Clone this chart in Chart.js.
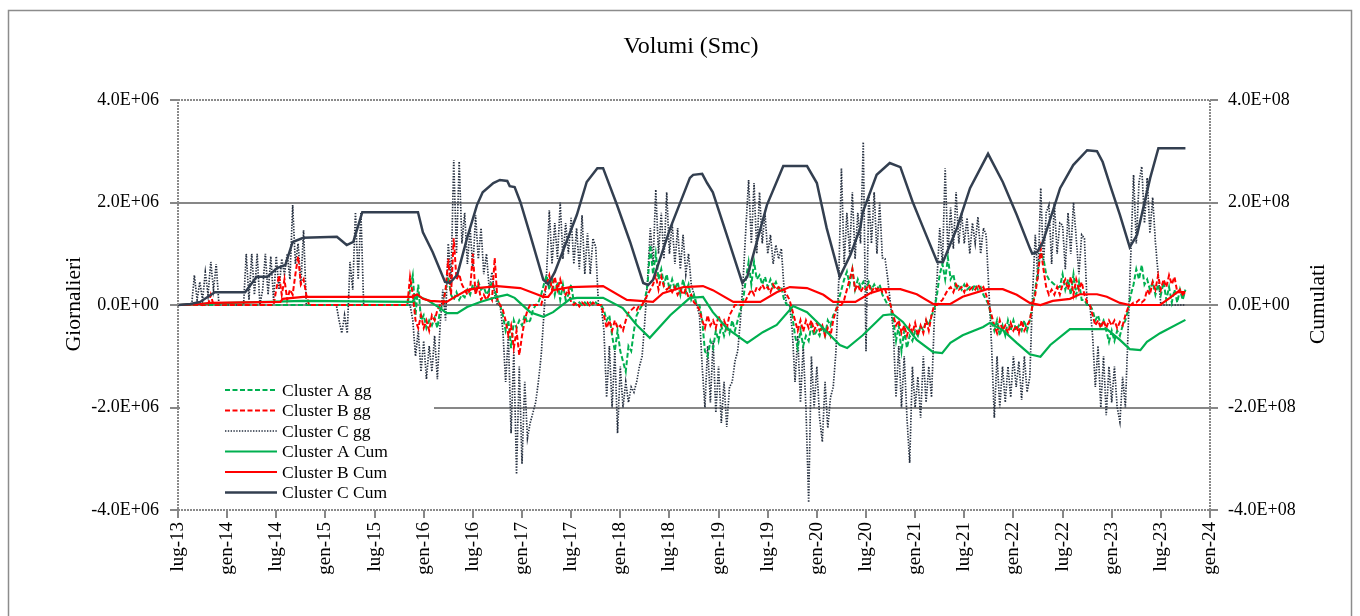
<!DOCTYPE html>
<html><head><meta charset="utf-8">
<script src="https://cdn.jsdelivr.net/npm/chart.js@4.4.1/dist/chart.umd.min.js"></script>
<style>html,body{margin:0;padding:0;background:#fff}#wrap{width:1360px;height:616px;position:relative}</style>
</head><body><div id="wrap"><canvas id="c" width="1360" height="616"></canvas></div>
<script>
// ---------------- DATA ----------------
const TITLE = 'Volumi (Smc)';
const LEFT_TITLE = 'Giornalieri';
const RIGHT_TITLE = 'Cumulati';
// x tick labels, one every 6 months starting lug-13 (month 0)
const tickLabels = ['lug-13','gen-14','lug-14','gen-15','lug-15','gen-16','lug-16','gen-17','lug-17','gen-18','lug-18','gen-19','lug-19','gen-20','lug-20','gen-21','lug-21','gen-22','lug-22','gen-23','lug-23','gen-24'];
const seriesNames = ['Cluster A gg','Cluster B gg','Cluster C gg','Cluster A Cum','Cluster B Cum','Cluster C Cum'];
// daily series sampled 3 times per month from lug-13, values in 1E+06 Smc
const SAMPLES_PER_MONTH = 3;
const clusterAgg = [
0,0,0,0,0,0,0,0,0,0,
0,0,0,0,0,0,0,0,0,0,
0,0,0,0,0,0,0,0,0,0,
0,0,0,0,0,0,0,0,0,0,
0,0,0,0,0,0,0,0,0,0,
0,0,0,0,0,0,0,0,0,0,
0,0,0,0,0,0,0,0,0,0,
0,0,0,0,0,0,0,0,0,0,
0,0,0,0,0,0.3,0.58,-0.2,0.4,-0.3,
-0.2,-0.45,-0.3,-0.4,-0.25,-0.45,-0.1,0,0.3,0.55,
0.2,0.1,0.25,0.1,0.2,0.15,0.3,0.2,0.4,0.25,
0.45,0.3,0.35,0.2,0.3,0.45,0.3,0.1,0,-0.2,
-0.5,-0.3,-0.84,-0.3,-0.45,-0.3,-0.4,-0.2,-0.35,-0.3,
-0.1,0,0.05,0.2,0.4,0.58,0.3,0.5,0.2,0.45,
0.1,0.4,0.1,0.2,0.4,0.05,0,0.05,0,0.05,
0,0.05,0,0.05,0,0,-0.1,-0.3,-0.2,-0.6,
-0.9,-0.5,-0.9,-1.1,-1.3,-0.8,-0.9,-0.5,-0.2,-0.1,
0,0.1,0.4,1.17,0.6,1.0,0.5,0.7,0.4,0.6,
0.3,0.5,0.3,0.45,0.2,0.5,0.25,0.4,0.1,0.2,
0,0,-0.3,-0.9,-1.0,-0.7,-0.84,-0.5,-0.7,-0.4,
-0.6,-0.4,-0.55,-0.3,-0.5,-0.3,-0.1,0.1,0.5,0.84,
0.4,0.84,0.5,0.58,0.4,0.55,0.35,0.5,0.35,0.45,
0.3,0.35,0.1,0,0,-0.2,-0.6,-0.84,-0.5,-0.8,
-0.6,-0.7,-0.4,-0.6,-0.5,-0.6,-0.4,-0.6,-0.3,-0.4,
-0.2,-0.1,0.1,0.3,0.5,0.65,0.4,0.7,0.3,0.5,
0.35,0.45,0.3,0.45,0.3,0.4,0.3,0.4,0.2,0.1,
0,0,-0.3,-0.7,-0.4,-0.9,-0.5,-0.84,-0.6,-0.7,
-0.5,-0.6,-0.4,-0.5,-0.3,-0.4,-0.2,-0.1,0.2,0.6,
0.8,0.5,0.92,0.5,0.6,0.3,0.4,0.3,0.4,0.3,
0.35,0.3,0.4,0.3,0.35,0.2,0.1,0,-0.3,-0.5,
-0.3,-0.6,-0.4,-0.59,-0.3,-0.5,-0.3,-0.5,-0.4,-0.5,
-0.3,-0.5,-0.3,0,0.3,0.7,1.03,0.9,0.6,0.5,
0.45,0.4,0.35,0.35,0.6,0.3,0.5,0.2,0.6,0.2,
0.45,0.1,0.1,0,0,-0.1,-0.3,-0.2,-0.4,-0.3,
-0.5,-0.72,-0.5,-0.7,-0.5,-0.6,-0.4,-0.3,-0.1,0.2,
0.4,0.7,0.5,0.78,0.4,0.5,0.3,0.45,0.2,0.4,
0.2,0.45,0.1,0.35,0.05,0.3,0.05,0.3,0.1,0.3
];
const clusterBgg = [
0,0,0,0,0,0,0,0,0,0,
0,0,0.2,0,0,0,0,0,0,0,
0,0,0,0,0,0,0,0,0,0,
0,0,0,0,0,0,0.3,0.58,0.2,0.5,
0.1,0.3,0.2,0.6,0.95,0.4,0.5,0.2,0,0,
0,0,0,0,0,0,0,0,0,0,
0,0,0,0,0,0,0,0,0,0,
0,0,0,0,0,0,0,0,0,0,
0,0,0,0,0,0.55,0.2,-0.3,-0.45,-0.2,
-0.45,-0.3,-0.5,-0.2,-0.3,-0.1,0,0,0.3,0.9,
0.2,1.3,0.5,0.6,0.4,0.3,0.2,0.3,1.0,0.2,
0.4,0.1,0.2,0.1,0.2,0.1,0.92,0.1,0,-0.1,
-0.3,-0.6,-0.4,-0.84,-0.5,-0.98,-0.6,-0.3,-0.1,0,
0,0,0,0,0.2,0.4,0.58,0.3,0.55,0.3,
0.5,0.3,0.2,0.3,0.05,0,0.05,-0.03,0.05,0,
0.05,-0.03,0.05,0,0,0,-0.2,-0.45,-0.3,-0.5,
-0.3,-0.45,-0.4,-0.5,-0.3,-0.15,-0.1,-0.05,-0.1,0,
0,0.1,0.2,0.3,0.4,0.58,0.3,0.55,0.35,0.3,
0.35,0.25,0.35,0.2,0.3,0.2,0.3,0.15,0.2,0.05,
0,-0.1,-0.3,-0.45,-0.2,-0.4,-0.3,-0.45,-0.2,-0.4,
-0.3,-0.45,-0.2,-0.1,0,0,0,0,0.1,0.2,
0.3,0.2,0.35,0.3,0.4,0.3,0.35,0.25,0.4,0.3,
0.35,0.3,0.3,0.2,0.1,-0.1,-0.3,-0.5,-0.3,-0.52,
-0.3,-0.45,-0.3,-0.5,-0.35,-0.5,-0.4,-0.6,-0.45,-0.6,
-0.3,-0.1,0,0,0.1,0.3,0.5,0.7,0.3,0.4,
0.25,0.35,0.3,0.4,0.25,0.35,0.3,0.35,0.25,0.3,
0.15,0,-0.2,-0.4,-0.3,-0.55,-0.4,-0.6,-0.4,-0.55,
-0.35,-0.6,-0.4,-0.55,-0.3,-0.5,-0.2,0,0,0.05,
0.1,0.2,0.3,0.35,0.25,0.4,0.3,0.35,0.25,0.4,
0.3,0.35,0.3,0.4,0.3,0.35,0.2,0,-0.2,-0.4,
-0.55,-0.3,-0.5,-0.4,-0.55,-0.35,-0.5,-0.4,-0.55,-0.3,
-0.5,-0.4,-0.3,0,0.2,0.6,1.1,0.7,0.35,0.2,
0.3,0.2,0.35,0.2,0.4,0.5,0.3,0.55,0.2,0.5,
0.3,0.45,0.2,0.05,0,-0.2,-0.4,-0.3,-0.45,-0.3,
-0.45,-0.3,-0.4,-0.3,-0.45,-0.33,-0.4,-0.2,-0.05,0,
0.05,0.05,0.1,0.05,0.1,0.3,0.2,0.45,0.3,0.58,
0.3,0.5,0.35,0.58,0.4,0.55,0.25,0.3,0.2,0.25
];
const clusterCgg = [
0,0,0,0,0,0,0.58,0.1,0.45,0.1,
0.64,0.2,0.84,0.3,0.8,0,0,0,0,0,
0,0,0,0,0,1.0,0.1,1.0,0.2,1.0,
0,0.3,1.0,0.2,0.95,0.1,0.95,0.3,0.9,0.6,
1.0,0.5,1.95,0.8,1.2,0.4,1.46,0,0,0,
0,0,0,0,0,0,0,0,0,-0.3,
-0.55,-0.2,-0.55,0.84,0.3,1.81,0.5,1.81,0,0,
0,0,0,0,0,0,0,0,0,0,
0,0,0,0,0,0,-0.3,-1.0,-0.5,-1.3,
-0.7,-1.45,-0.8,-1.3,-0.6,-1.45,-0.4,0.3,-0.3,1.2,
0.5,2.83,1.0,2.8,1.2,1.8,0.8,1.5,0.7,1.75,
0.9,1.5,0.6,1.0,0.3,0.64,0.2,0,0,-0.5,
-1.5,-0.6,-2.5,-0.9,-3.3,-1.2,-3.1,-1.5,-2.6,-2.3,
-2.1,-1.9,-1.5,-1.0,-0.2,0.6,1.85,0.8,1.6,0.9,
2.0,0.9,1.6,1.0,1.7,0.8,1.5,0.7,1.75,0.6,
1.4,0.6,1.3,1.13,0,0,-0.5,-1.8,-0.8,-2.0,
-0.9,-2.5,-1.2,-2.0,-1.5,-1.9,-1.6,-1.7,-1.5,-1.2,
-1.0,-0.3,0.5,1.5,0.8,2.25,1.0,1.8,0.9,2.2,
1.0,1.6,0.8,1.5,0.7,1.37,0.6,1.0,0.4,0.2,
0,-0.2,-1.2,-2.0,-0.8,-1.9,-0.7,-2.1,-1.2,-2.3,
-1.5,-2.38,-1.6,-1.5,-1.1,-0.9,-0.3,0.5,1.5,2.44,
1.2,2.38,1.0,2.2,1.2,1.8,1.0,1.37,0.8,1.17,
0.9,1.1,0.3,0,0,-0.5,-1.5,-0.6,-1.9,-0.8,
-2.0,-3.85,-1.0,-2.0,-1.2,-2.2,-2.67,-1.5,-2.4,-1.8,
-1.6,-0.9,0.45,2.67,0.8,1.8,1.0,2.2,0.9,1.8,
1.2,3.18,-0.9,2.15,1.2,2.2,1.0,2.0,0.92,0.9,
0.5,0,-0.5,-1.8,-0.8,-2.0,-1.0,-2.2,-3.08,-1.2,
-2.0,-1.4,-2.2,-1.0,-1.9,-1.2,-1.8,-0.3,0.5,1.5,
0.8,2.67,1.0,1.9,1.1,2.2,1.2,1.8,1.2,1.7,
1.0,1.6,1.2,1.72,1.0,1.5,1.37,0.3,-0.8,-2.2,
-1.0,-2.0,-1.2,-1.9,-1.2,-1.8,-1.0,-1.6,-1.1,-1.85,
-1.0,-1.7,-1.4,0.2,1.37,0.5,2.28,0.8,1.8,1.95,
0.8,2.0,1.0,1.6,1.56,0.7,1.8,1.0,2.0,1.3,
0.6,1.37,1.3,0,0,-0.6,-1.6,-0.8,-2.0,-1.0,
-2.15,-1.2,-1.9,-1.2,-2.0,-2.28,-1.4,-2.0,-0.5,1.0,
2.54,1.2,2.4,2.7,1.6,2.48,1.4,2.1,1.23,0.6,
0,0,0,0,0,0,0,0,0,0
];
// cumulative series: [months since lug-13, value in 1E+08 Smc]
const clusterACum = [[0,0],[4.3,0.03],[15.3,0.08],[28.6,0.06],[29.2,0.18],[30.4,0.10],[32.0,-0.06],[32.8,-0.16],[34.1,-0.16],[35.3,-0.04],[36.9,0.06],[39.0,0.16],[40.2,0.20],[41.1,0.14],[43.0,-0.14],[44.6,-0.23],[45.8,-0.14],[47.9,0.12],[48.7,0.14],[51.9,0.14],[54.3,-0.06],[56.0,-0.39],[57.6,-0.64],[60.1,-0.20],[62.5,0.14],[64.1,0.16],[65.3,-0.14],[67.0,-0.45],[69.5,-0.74],[71.4,-0.53],[73.1,-0.39],[75.1,-0.02],[76.8,-0.14],[78.4,-0.39],[80.8,-0.78],[81.7,-0.84],[83.6,-0.59],[86.1,-0.20],[87.3,-0.18],[88.5,-0.33],[90.2,-0.68],[92.2,-0.92],[93.3,-0.94],[94.3,-0.74],[95.8,-0.59],[98.3,-0.43],[99.1,-0.35],[100.7,-0.49],[102.4,-0.74],[104.0,-0.96],[105.3,-1.01],[106.5,-0.78],[108.9,-0.47],[113.4,-0.47],[115.0,-0.68],[116.2,-0.86],[117.5,-0.88],[118.3,-0.72],[119.9,-0.55],[123.0,-0.29]];
const clusterBCum = [[0,0],[2.7,0.02],[3.9,0.04],[12.5,0.06],[12.8,0.12],[15.3,0.16],[28.6,0.16],[29.2,0.21],[29.9,0.12],[30.8,0.08],[32.8,0.06],[33.6,0.14],[35.3,0.29],[36.5,0.33],[39.0,0.37],[41.8,0.33],[43.8,0.21],[44.6,0.16],[45.2,0.16],[45.8,0.29],[47.9,0.35],[51.9,0.37],[54.8,0.10],[58.0,0.06],[59.2,0.23],[61.7,0.35],[64.1,0.37],[65.3,0.29],[67.8,0.06],[71.1,0.06],[73.1,0.25],[74.7,0.35],[76.8,0.33],[78.8,0.20],[80.0,0.06],[82.7,0.06],[84.5,0.23],[86.1,0.31],[88.2,0.31],[90.2,0.21],[92.2,0.02],[94.3,0.02],[95.8,0.16],[98.8,0.31],[100.7,0.31],[102.4,0.20],[104.0,0.04],[105.3,0],[106.8,0.08],[108.9,0.12],[110.1,0.21],[112.2,0.21],[113.4,0.16],[115.0,0.04],[116.2,0],[119.9,0],[121.1,0.14],[122.0,0.25],[123.0,0.25]];
const clusterCCum = [[0,0],[1.5,0.02],[2.7,0.06],[4.5,0.25],[8.2,0.25],[9.6,0.55],[10.9,0.55],[12.1,0.72],[13.1,0.78],[14.0,1.23],[15.3,1.31],[19.4,1.33],[20.6,1.17],[21.4,1.23],[22.5,1.81],[29.3,1.81],[29.9,1.42],[31.1,1.03],[32.6,0.45],[33.2,0.43],[34.1,0.59],[35.3,1.31],[36.5,1.95],[37.2,2.20],[38.5,2.38],[39.3,2.44],[40.2,2.42],[40.5,2.32],[41.1,2.30],[41.8,2.01],[43.0,1.37],[44.6,0.49],[45.2,0.41],[46.0,0.64],[48.7,1.76],[49.9,2.40],[51.2,2.67],[51.9,2.67],[53.6,1.95],[55.2,1.23],[56.8,0.43],[57.4,0.39],[58.0,0.49],[60.1,1.50],[62.5,2.48],[62.9,2.54],[64.0,2.56],[64.6,2.38],[65.3,2.20],[67.0,1.37],[68.9,0.43],[69.5,0.55],[71.9,1.95],[73.9,2.71],[76.8,2.71],[78.0,2.38],[79.2,1.50],[80.8,0.55],[82.1,0.98],[83.3,1.50],[83.6,1.81],[85.3,2.54],[86.9,2.77],[88.2,2.69],[89.7,2.01],[91.0,1.50],[92.7,0.84],[93.4,0.84],[95.1,1.50],[96.7,2.28],[98.9,2.95],[100.7,2.40],[102.4,1.76],[104.0,1.11],[104.3,1.00],[104.9,1.03],[105.6,1.23],[107.7,2.28],[109.3,2.73],[111.0,3.02],[112.2,3.00],[112.9,2.79],[113.8,2.34],[115.0,1.76],[116.2,1.13],[117.1,1.37],[118.7,2.48],[119.7,3.06],[123.0,3.06]];

// ---------------- CHART ----------------
const FONT = "'Liberation Serif', 'Times New Roman', serif";
const DAILY_UNIT = 1e6, CUM_UNIT = 1e8;
const GREEN = '#00B050', RED = '#FF0000', NAVY = '#333F50', DOTNAVY = '#263040', GRID = '#878787';
const dailyPts = vals => vals.map((v, i) => ({x: i / SAMPLES_PER_MONTH, y: v * DAILY_UNIT}));
const cumPts = pairs => pairs.map(([m, v]) => ({x: m, y: v * CUM_UNIT}));
function sci(v, exp) {
  const m = v / Math.pow(10, exp);
  if (Math.abs(m) < 1e-9) return '0.0E+00';
  return m.toFixed(1) + 'E+' + String(exp).padStart(2, '0');
}
const common = {pointRadius: 0, pointHoverRadius: 0, tension: 0, fill: false};
const datasets = [
  {...common, label: seriesNames[0], data: dailyPts(clusterAgg), yAxisID: 'y', borderColor: GREEN, borderWidth: 2, borderDash: [5, 2.5], order: 4},
  {...common, label: seriesNames[1], data: dailyPts(clusterBgg), yAxisID: 'y', borderColor: RED, borderWidth: 2, borderDash: [5, 2.5], order: 3},
  {...common, label: seriesNames[2], data: dailyPts(clusterCgg), yAxisID: 'y', borderColor: DOTNAVY, borderWidth: 1.7, borderDash: [1.4, 1.4], order: 5},
  {...common, label: seriesNames[3], data: cumPts(clusterACum), yAxisID: 'y1', borderColor: GREEN, borderWidth: 2.2, order: 2},
  {...common, label: seriesNames[4], data: cumPts(clusterBCum), yAxisID: 'y1', borderColor: RED, borderWidth: 2.2, order: 1},
  {...common, label: seriesNames[5], data: cumPts(clusterCCum), yAxisID: 'y1', borderColor: NAVY, borderWidth: 2.5, order: 0}
];

const decor = {
  id: 'decor',
  beforeDraw(chart) {
    const c = chart.ctx; c.save(); c.fillStyle = '#fff'; c.fillRect(0, 0, chart.width, chart.height); c.restore();
  },
  afterDraw(chart) {
    const c = chart.ctx, a = chart.chartArea;
    c.save();
    // plot border (dotted grey)
    c.strokeStyle = '#8a8a8a'; c.lineWidth = 2; c.setLineDash([2, 1]);
    c.strokeRect(a.left, a.top, a.right - a.left, a.bottom - a.top);
    c.setLineDash([]);
    // outer frame
    c.strokeStyle = '#8c8c8c'; c.lineWidth = 1.5;
    c.strokeRect(8.5, 10.5, 1343, 700);
    // title
    c.fillStyle = '#000'; c.textAlign = 'center'; c.textBaseline = 'middle';
    c.font = '24px ' + FONT;
    c.fillText(TITLE, 691, 47);
    // axis titles
    c.font = '21.5px ' + FONT;
    c.save(); c.translate(74, 304); c.rotate(-Math.PI / 2); c.fillText(LEFT_TITLE, 0, 0); c.restore();
    c.save(); c.translate(1318, 304); c.rotate(-Math.PI / 2); c.fillText(RIGHT_TITLE, 0, 0); c.restore();
    // legend
    c.fillStyle = '#fff';
    c.fillRect(180, 379, 254, 126);
    const rows = [390, 410.5, 431, 451.5, 472, 492.5];
    c.font = '17.5px ' + FONT; c.textAlign = 'left'; c.textBaseline = 'middle';
    chart.data.datasets.forEach((ds, i) => {
      const y = rows[i];
      c.strokeStyle = ds.borderColor; c.lineWidth = ds.borderWidth;
      c.setLineDash(ds.borderDash || []);
      c.beginPath(); c.moveTo(225, y); c.lineTo(277, y); c.stroke();
      c.setLineDash([]);
      c.fillStyle = '#000';
      c.fillText(ds.label, 282, y + 1);
    });
    c.restore();
  }
};

new Chart(document.getElementById('c'), {
  type: 'line',
  data: {datasets},
  options: {
    responsive: false, animation: false, devicePixelRatio: 1,
    parsing: true, normalized: true,
    layout: {padding: {top: 100, left: 0, right: 0, bottom: 0}},
    plugins: {legend: {display: false}, title: {display: false}, tooltip: {enabled: false}},
    scales: {
      x: {
        type: 'linear', position: 'bottom', min: 0, max: 126,
        afterFit: s => { s.height = 106; },
        ticks: {stepSize: 6, autoSkip: false, maxRotation: 90, minRotation: 90, padding: 4, color: '#000',
          font: {family: FONT, size: 19}, callback: v => tickLabels[Math.round(v / 6)]},
        grid: {drawOnChartArea: false, drawTicks: true, tickLength: 8, tickColor: GRID, lineWidth: 2},
        border: {display: false}
      },
      y: {
        type: 'linear', position: 'left', min: -4e6, max: 4e6,
        afterFit: s => { s.width = 178; },
        ticks: {stepSize: 2e6, padding: 11, color: '#000', font: {family: FONT, size: 18}, callback: v => sci(v, 6)},
        grid: {color: ctx => (ctx.tick && Math.abs(ctx.tick.value) < 3.9e6) ? GRID : 'rgba(0,0,0,0)', lineWidth: 2,
          drawTicks: true, tickLength: 8, tickColor: GRID},
        border: {display: false}
      },
      y1: {
        type: 'linear', position: 'right', min: -4e8, max: 4e8,
        afterFit: s => { s.width = 150; },
        ticks: {stepSize: 2e8, padding: 10, color: '#000', font: {family: FONT, size: 18}, callback: v => sci(v, 8)},
        grid: {drawOnChartArea: false, drawTicks: true, tickLength: 8, tickColor: GRID, lineWidth: 2},
        border: {display: false}
      }
    }
  },
  plugins: [decor]
});
</script>
</body></html>
